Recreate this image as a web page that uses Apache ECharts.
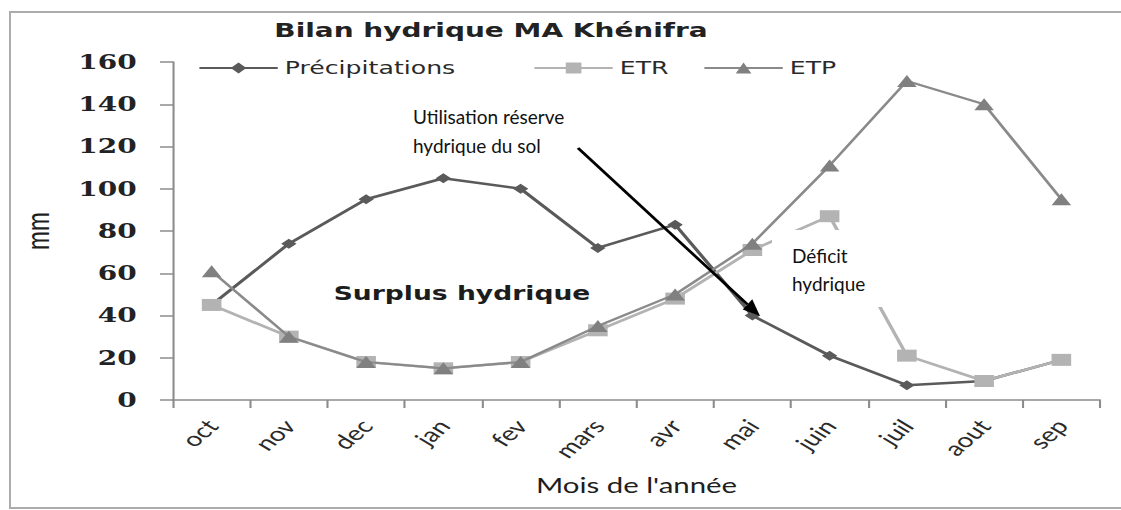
<!DOCTYPE html>
<html>
<head>
<meta charset="utf-8">
<title>Bilan hydrique MA Khénifra</title>
<script src="https://cdn.jsdelivr.net/npm/echarts@6/dist/echarts.min.js"></script>
<style>
  html, body { margin: 0; padding: 0; background: #fff; overflow: hidden; width: 1121px; height: 510px; }
  #wrap { width: 1121px; height: 510px; overflow: hidden; position: relative; }
  #chart { height: 510px; transform-origin: 0 0; }
  /* chart frame: left, top and bottom edges; the right edge runs past the page */
  .edge { position: absolute; background: #acacac; pointer-events: none; z-index: 5; }
  #edge-top { left: 9px; top: 11px; width: 1112px; height: 2px; }
  #edge-bottom { left: 9px; top: 507px; width: 1112px; height: 2px; }
  #edge-left { left: 9px; top: 11px; width: 2px; height: 498px; }
</style>
</head>
<body>
<div id="wrap">
  <div id="chart"></div>
  <div class="edge" id="edge-top"></div>
  <div class="edge" id="edge-bottom"></div>
  <div class="edge" id="edge-left"></div>
</div>
<script>
// Monthly water balance for the Khénifra station (mm)
const months = ['oct', 'nov', 'dec', 'jan', 'fev', 'mars', 'avr', 'mai', 'juin', 'juil', 'aout', 'sep'];
const precipitations = [45, 74, 95, 105, 100, 72, 83, 40, 21, 7, 9, 19];
const etr = [45, 30, 18, 15, 18, 33, 48, 71, 87, 21, 9, 19];
const etp = [61, 30, 18, 15, 18, 35, 50, 74, 111, 151, 140, 95];
const yMin = 0, yMax = 160, yStep = 20;

// The chart is laid out on a narrower canvas and widened horizontally,
// giving the broad, stretched lettering of the original spreadsheet figure.
const PAGE_W = 1121;
const BASE_W = 801;
const S = PAGE_W / BASE_W;
const el = document.getElementById('chart');
el.style.width = BASE_W + 'px';
el.style.transform = 'scaleX(' + S + ')';

const chart = echarts.init(el, null, { renderer: 'svg' });

// helpers for annotations placed in page (unstretched) pixels
const px = x => x / S;

// arrow "Utilisation réserve hydrique du sol" -> May rainfall
const a0 = [578, 148], a1 = [760, 316];
const dx = a1[0] - a0[0], dy = a1[1] - a0[1];
const len = Math.hypot(dx, dy);
const ux = dx / len, uy = dy / len;
const headL = 17, headW = 7;
const base = [a1[0] - ux * headL, a1[1] - uy * headL];
const head = [
  [a1[0], a1[1]],
  [base[0] - uy * headW, base[1] + ux * headW],
  [base[0] + uy * headW, base[1] - ux * headW]
].map(p => [px(p[0]), p[1]]);

const PREC = '#5a5a5a', ETR_C = '#b3b3b3', ETP_C = '#8a8a8a';

function legendFor(name, left) {
  return {
    data: [name],
    left: left,
    top: 59,
    padding: 0,
    itemWidth: 56,
    itemHeight: 14,
    textStyle: { fontFamily: 'DejaVu Sans', fontSize: 18, color: '#2a2a2a' }
  };
}

chart.setOption({
  animation: false,
  backgroundColor: '#ffffff',
  title: {
    text: 'Bilan hydrique MA Khénifra',
    left: 196,
    top: 20,
    padding: 0,
    textStyle: { fontFamily: 'DejaVu Sans', fontWeight: 'bold', fontSize: 20, color: '#222' }
  },
  legend: [
    legendFor('Précipitations', px(198)),
    legendFor('ETR', px(533)),
    legendFor('ETP', px(703))
  ],
  grid: {
    left: px(173),
    right: BASE_W - px(1100),
    top: 62,
    bottom: 110,
    containLabel: false,
    outerBoundsMode: 'none'
  },
  xAxis: {
    type: 'category',
    data: months,
    boundaryGap: true,
    name: "Mois de l'année",
    nameLocation: 'middle',
    nameGap: 74,
    nameTextStyle: { fontFamily: 'Lato', fontSize: 21, color: '#1e1e1e' },
    axisLine: { lineStyle: { color: '#8c8c8c', width: 1.5 } },
    axisTick: { show: true, length: 8, lineStyle: { color: '#8c8c8c', width: 1.5 } },
    axisLabel: { rotate: 50, margin: 22, fontFamily: 'Lato', fontSize: 20, color: '#2a2a2a' },
    splitLine: { show: false }
  },
  yAxis: {
    type: 'value',
    min: yMin,
    max: yMax,
    interval: yStep,
    name: 'mm',
    nameLocation: 'middle',
    nameRotate: 90,
    nameGap: 86,
    nameTextStyle: { fontFamily: 'Lato', fontSize: 23, color: '#1e1e1e' },
    axisLine: { show: true, lineStyle: { color: '#8c8c8c', width: 1.5 } },
    axisTick: { show: true, length: px(13), lineStyle: { color: '#8c8c8c', width: 1.5 } },
    axisLabel: { margin: 26, fontFamily: 'DejaVu Serif', fontWeight: 'bold', fontSize: 20, color: '#222' },
    splitLine: { show: false }
  },
  series: [
    {
      name: 'Précipitations',
      type: 'line',
      data: precipitations,
      symbol: 'diamond',
      symbolSize: [11, 10],
      lineStyle: { color: PREC, width: 2.6 },
      itemStyle: { color: PREC },
      z: 2
    },
    {
      name: 'ETR',
      type: 'line',
      data: etr,
      symbol: 'rect',
      symbolSize: [14, 12],
      lineStyle: { color: ETR_C, width: 2.6 },
      itemStyle: { color: ETR_C },
      z: 3
    },
    {
      name: 'ETP',
      type: 'line',
      data: etp,
      symbol: 'triangle',
      symbolSize: [14, 12],
      lineStyle: { color: ETP_C, width: 2.2 },
      itemStyle: { color: '#808080' },
      z: 4
    }
  ],
  graphic: [
    {
      type: 'text', silent: true, z: 50,
      x: px(462), y: 293,
      style: { text: 'Surplus hydrique', font: 'bold 19px "DejaVu Sans"', fill: '#1c1c1c', align: 'center', verticalAlign: 'middle' }
    },
    {
      type: 'rect', silent: true, z: 60,
      shape: { x: px(772), y: 230, width: px(895) - px(772), height: 77 },
      style: { fill: '#ffffff' }
    },
    {
      type: 'text', silent: true, z: 70,
      x: px(792), y: 242, scaleX: 1 / S,
      style: { text: 'Déficit\nhydrique', font: '19px Lato', lineHeight: 28, fill: '#111', align: 'left', verticalAlign: 'top' }
    },
    {
      type: 'text', silent: true, z: 70,
      x: px(413), y: 102, scaleX: 1 / S,
      style: { text: 'Utilisation réserve\nhydrique du sol', font: '19px Lato', lineHeight: 29, fill: '#111', align: 'left', verticalAlign: 'top' }
    },
    {
      type: 'line', silent: true, z: 70,
      shape: { x1: px(a0[0]), y1: a0[1], x2: px(base[0]), y2: base[1] },
      style: { stroke: '#000', lineWidth: 2.3 }
    },
    {
      type: 'polygon', silent: true, z: 70,
      shape: { points: head },
      style: { fill: '#000' }
    }
  ]
});
</script>
</body>
</html>
